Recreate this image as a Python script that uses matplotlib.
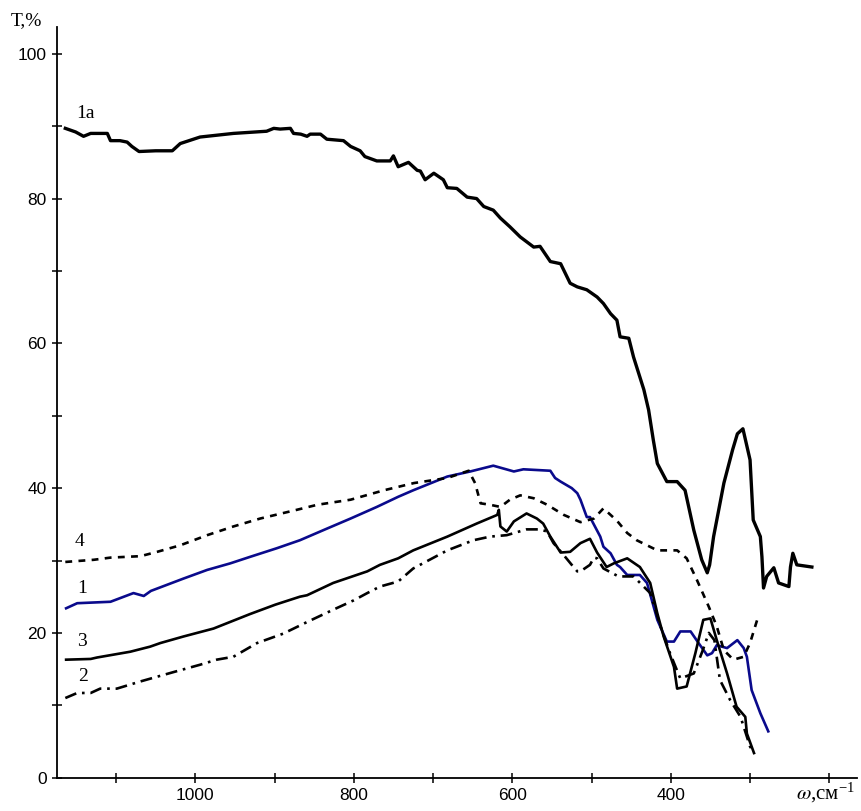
import matplotlib
matplotlib.use('Agg')
import matplotlib.pyplot as plt
from matplotlib.ticker import FixedLocator

plt.rcParams['mathtext.fontset'] = 'stix'

# curve 1a
w_1a = [1164, 1151, 1141, 1132, 1111, 1107, 1095, 1086, 1080, 1071, 1050, 1029, 1019, 994, 952, 910,
        901, 893, 880, 876, 867, 859, 855, 842, 834, 813, 804, 792, 786, 771, 754, 750, 744, 731,
        720, 716, 710, 699, 687, 682, 670, 657, 645, 636, 624, 615, 603, 590, 573, 565, 552, 539,
        527, 518, 506, 493, 485, 476, 468, 464, 453, 447, 434, 428, 422, 417, 405, 392, 382, 371,
        361, 354, 351, 346, 333, 322, 316, 309, 300, 296, 287, 285, 283, 279, 270, 264, 251, 249,
        246, 241, 222]
T_1a = [89.7, 89.2, 88.6, 89.0, 89.0, 88.0, 88.0, 87.8, 87.2, 86.5, 86.6, 86.6, 87.6, 88.5, 89.0, 89.3,
        89.7, 89.6, 89.7, 89.0, 88.9, 88.6, 88.9, 88.9, 88.2, 88.0, 87.2, 86.6, 85.8, 85.2, 85.2, 85.9,
        84.4, 85.0, 83.9, 83.8, 82.6, 83.5, 82.6, 81.5, 81.4, 80.2, 80.0, 78.9, 78.4, 77.3, 76.1, 74.7,
        73.3, 73.4, 71.3, 71.0, 68.3, 67.8, 67.4, 66.4, 65.5, 64.1, 63.2, 60.9, 60.7, 58.1, 53.6, 50.8,
        46.6, 43.4, 40.9, 40.9, 39.7, 34.2, 30.1, 28.3, 29.4, 33.3, 40.7, 45.3, 47.5, 48.2, 43.9, 35.6,
        33.3, 30.5, 26.2, 27.8, 29.0, 26.9, 26.4, 29.1, 31.0, 29.4, 29.1]

# curve 1 (blue)
w_1 = [1163, 1149, 1107, 1078, 1065, 1056, 1015, 985, 956, 931, 897, 868, 834, 804, 771, 744, 725,
       682, 653, 624, 598, 586, 552, 546, 539, 525, 518, 514, 506, 502, 489, 485, 476, 468, 464, 455,
       439, 430, 417, 405, 396, 388, 375, 365, 354, 348, 342, 329, 316, 308, 304, 298, 287, 277]
T_1 = [23.4, 24.1, 24.3, 25.5, 25.1, 25.8, 27.5, 28.7, 29.6, 30.5, 31.7, 32.8, 34.4, 35.8, 37.4, 38.8,
       39.7, 41.6, 42.3, 43.1, 42.3, 42.6, 42.4, 41.4, 40.9, 40.0, 39.3, 38.4, 36.0, 36.0, 33.3, 31.9,
       31.0, 29.4, 29.1, 28.0, 28.0, 26.9, 21.8, 18.8, 18.8, 20.2, 20.2, 18.6, 16.9, 17.2, 18.3, 17.9,
       19.0, 17.9, 16.7, 12.1, 8.9, 6.4]

# curve 2 (dash-dot)
w_2 = [1164, 1149, 1132, 1120, 1099, 1069, 1027, 994, 973, 952, 922, 889, 859, 826, 800, 783, 767,
       744, 725, 682, 649, 628, 607, 582, 565, 556, 548, 537, 525, 518, 514, 506, 502, 497, 493, 485,
       466, 447, 426, 413, 401, 388, 371, 360, 352, 345, 338, 325, 312, 300, 295]
T_2 = [11.0, 11.7, 11.7, 12.3, 12.3, 13.3, 14.6, 15.6, 16.3, 16.7, 18.6, 19.9, 21.5, 23.2, 24.5, 25.5,
       26.4, 27.1, 28.9, 31.4, 32.8, 33.3, 33.5, 34.3, 34.3, 34.0, 32.4, 31.0, 29.4, 28.5, 28.5, 29.1,
       29.4, 30.4, 30.3, 28.9, 27.8, 27.8, 25.5, 20.9, 17.2, 13.7, 14.4, 17.5, 20.0, 19.0, 13.5, 10.7,
       8.4, 4.3, 3.4]

# curve 3 (solid)
w_3 = [1163, 1132, 1124, 1082, 1057, 1044, 1015, 977, 931, 899, 868, 859, 826, 783, 767, 744, 725,
       682, 645, 619, 617, 615, 607, 598, 582, 569, 561, 552, 539, 527, 514, 502, 493, 481, 472, 455,
       439, 426, 417, 409, 396, 392, 380, 369, 359, 350, 342, 329, 317, 306, 304, 295]
T_3 = [16.3, 16.4, 16.6, 17.4, 18.1, 18.6, 19.5, 20.6, 22.6, 23.9, 25.0, 25.2, 26.9, 28.5, 29.4, 30.3,
       31.4, 33.3, 35.1, 36.3, 37.0, 34.7, 34.0, 35.4, 36.5, 35.8, 35.1, 33.3, 31.1, 31.2, 32.4, 33.0,
       31.1, 29.1, 29.6, 30.3, 29.1, 26.9, 22.7, 19.5, 15.3, 12.3, 12.6, 17.2, 21.8, 22.0, 19.0, 14.4,
       9.8, 8.4, 6.1, 3.4]

# curve 4 (dotted)
w_4 = [1164, 1128, 1107, 1069, 1048, 1019, 985, 952, 918, 872, 846, 804, 762, 724, 682, 655, 647,
       640, 628, 615, 603, 590, 573, 556, 535, 514, 497, 485, 468, 455, 443, 417, 392, 380, 367, 352,
       342, 333, 321, 308, 300, 291, 285]
T_4 = [29.8, 30.1, 30.4, 30.6, 31.2, 32.1, 33.5, 34.7, 35.8, 37.0, 37.7, 38.4, 39.7, 40.7, 41.4, 42.4,
       40.7, 37.9, 37.7, 37.4, 38.4, 39.0, 38.6, 37.7, 36.3, 35.3, 35.8, 37.2, 35.5, 33.8, 32.8, 31.4,
       31.4, 30.3, 27.3, 23.6, 20.9, 17.6, 16.3, 16.7, 18.6, 21.8, 22.2]

curve_labels = ['1a', '4', '1', '3', '2']
label_w = [1138, 1146, 1143, 1143, 1141]
label_T = [91.7, 32.6, 26.1, 18.8, 14.0]

x_major = [1000, 800, 600, 400]
x_minor = [1100, 900, 700, 500, 300, 200]
y_major = [0, 20, 40, 60, 80, 100]
y_minor = [10, 30, 50, 70, 90]

fig = plt.figure(figsize=(8.61, 8.11), dpi=100)
ax = fig.add_axes([0.0662, 0.0411, 0.9292, 0.9256])

ax.plot(w_1a, T_1a, color='black', lw=2.4)
ax.plot(w_1, T_1, color='#0a0a8c', lw=1.9)
ax.plot(w_3, T_3, color='black', lw=1.9)
ax.plot(w_2, T_2, color='black', lw=1.9, linestyle=(0, (4.5, 2.2, 1.0, 2.2)))
ax.plot(w_4, T_4, color='black', lw=1.9, linestyle=(0, (2.6, 2.4)))

for lab, lw_, lt in zip(curve_labels, label_w, label_T):
    ax.text(lw_, lt, lab, ha='center', va='center', fontsize=14, family='Liberation Serif')

ax.set_xlim(1174.5, 165)
ax.set_ylim(0, 103.7)

for s in ['top', 'right']:
    ax.spines[s].set_visible(False)
for s in ['left', 'bottom']:
    ax.spines[s].set_linewidth(1.3)

ax.xaxis.set_major_locator(FixedLocator(x_major))
ax.xaxis.set_minor_locator(FixedLocator(x_minor))
ax.yaxis.set_major_locator(FixedLocator(y_major))
ax.yaxis.set_minor_locator(FixedLocator(y_minor))
ax.tick_params(which='both', direction='inout', length=7, width=1.1)
ax.tick_params(axis='x', pad=4)
ax.tick_params(axis='y', pad=4)
for lbl in ax.get_xticklabels() + ax.get_yticklabels():
    lbl.set_family('Liberation Sans')
    lbl.set_fontsize(12.5)

fig.text(0.012, 0.985, 'T,%', ha='left', va='top', fontsize=14, family='Liberation Serif')
fig.text(0.925, 0.008, r'$\omega$,см$^{\mathregular{-1}}$', ha='left', va='bottom',
         fontsize=15, family='Liberation Serif')

plt.savefig('out.png', dpi=100)
